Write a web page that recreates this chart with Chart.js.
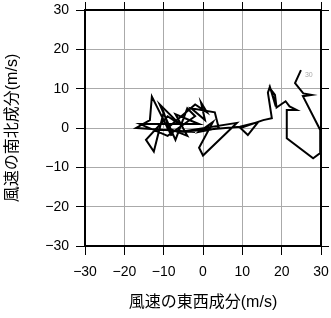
<!DOCTYPE html>
<html>
<head>
<meta charset="utf-8">
<script src="https://cdn.jsdelivr.net/npm/chart.js@4"></script>
<style>
  body { margin: 0; background: #fff; }
  #wrap { width: 331px; height: 318px; }
</style>
</head>
<body>
<div id="wrap"><canvas id="hodo"></canvas></div>
<script>
// wind components (m/s), in time order
const uWind = [-2, -17, -13.5, -13, -8, -10, -12.5, -14.5, -9, -6, -11, -7, -4, -2, -9, -16, -1, -7, -4, -9,
    -2, 1, -0.5, 0.5, -3, 3, 4, -1, 2.5, -1, 0, 8.6, -6, 9.4, 14, 11.4, 9.5, 15.3, 17.5, 16.5,
    17, 18.5, 17.3, 18.3, 18.7, 21, 22, 23.8, 21.3, 21.3, 28, 29.8, 29.8, 25.4, 27.6, 25.5, 23.4, 24.9];
const vWind = [-1, 0, 2, 8, -2, 4, -6, -3, 3, 1, 6, -3, 5, 3, -2, 1, 1, 3.5, -2, 0,
    6, 4, 6.5, 2, 5, 4, 0, -1, 1.5, -5, -7, 1.3, -1, 0.3, 1.5, -1.8, 0, 2, 2.5, 9,
    10.5, 5.5, 9.7, 8.4, 5.2, 6.8, 5.5, 4.6, 4.6, -2.6, -7.7, -6.4, -0.5, 8.1, 8.4, 8.8, 11.4, 14.7];
const axisTicks = [-30, -20, -10, 0, 10, 20, 30];
const endLabel = '30';

const points = uWind.map((u, i) => ({ x: u, y: vWind[i] }));
const fmt = v => String(v).replace('-', '\u2212');

const tickFont = { family: 'Liberation Sans', size: 14 };
const titleFont = { family: '"Liberation Sans", "Noto Sans CJK JP"', size: 16 };

const gridMain = {
    color: '#aaa',
    tickColor: '#000',
    tickLength: 9,
    lineWidth: 1
};

function noPad(s) {
    s.paddingLeft = 0; s.paddingRight = 0; s.paddingTop = 0; s.paddingBottom = 0;
}

// small label at the last point
const endLabelPlugin = {
    id: 'endLabel',
    afterDatasetsDraw(chart) {
        const { ctx, scales } = chart;
        const last = points[points.length - 1];
        const px = scales.x.getPixelForValue(last.x);
        const py = scales.y.getPixelForValue(last.y);
        ctx.save();
        ctx.fillStyle = '#aaa';
        ctx.font = '7px "Liberation Sans"';
        ctx.textBaseline = 'middle';
        ctx.fillText(endLabel, px + 4, py + 5);
        ctx.restore();
    }
};

new Chart(document.getElementById('hodo'), {
    type: 'scatter',
    data: {
        datasets: [{
            data: points,
            showLine: true,
            borderColor: '#000',
            borderWidth: 2,
            borderJoinStyle: 'miter',
            pointRadius: 0,
            tension: 0
        }]
    },
    options: {
        responsive: true,
        maintainAspectRatio: false,
        animation: false,
        layout: { padding: 0 },
        plugins: { legend: { display: false }, tooltip: { enabled: false } },
        scales: {
            x: {
                type: 'linear', position: 'bottom', min: -30, max: 30,
                afterBuildTicks: s => { s.ticks = axisTicks.map(v => ({ value: v })); },
                afterFit: s => { s.height = 72; noPad(s); },
                ticks: { color: '#000', font: tickFont, padding: 9, maxRotation: 0, callback: fmt },
                grid: gridMain,
                border: { color: '#000', width: 2 },
                title: { display: true, text: '風速の東西成分(m/s)', color: '#000', font: titleFont, padding: { top: 0, bottom: 6 } }
            },
            y: {
                type: 'linear', position: 'left', min: -30, max: 30,
                afterBuildTicks: s => { s.ticks = axisTicks.map(v => ({ value: v })); },
                afterFit: s => { s.width = 85; noPad(s); },
                ticks: { color: '#000', font: tickFont, padding: 7, callback: fmt },
                grid: gridMain,
                border: { color: '#000', width: 2 },
                title: { display: true, text: '風速の南北成分(m/s)', color: '#000', font: titleFont, padding: { top: 3, bottom: 0 } }
            },
            x2: {
                type: 'linear', position: 'top', min: -30, max: 30,
                afterBuildTicks: s => { s.ticks = axisTicks.map(v => ({ value: v })); },
                afterFit: s => { s.height = 10; noPad(s); },
                ticks: { display: false },
                grid: { drawOnChartArea: false, tickColor: '#000', tickLength: 8 },
                border: { color: '#000', width: 2 }
            },
            y2: {
                type: 'linear', position: 'right', min: -30, max: 30,
                afterBuildTicks: s => { s.ticks = axisTicks.map(v => ({ value: v })); },
                afterFit: s => { s.width = 10; noPad(s); },
                ticks: { display: false },
                grid: { drawOnChartArea: false, tickColor: '#000', tickLength: 8 },
                border: { color: '#000', width: 2 }
            }
        }
    },
    plugins: [endLabelPlugin]
});
</script>
</body>
</html>
